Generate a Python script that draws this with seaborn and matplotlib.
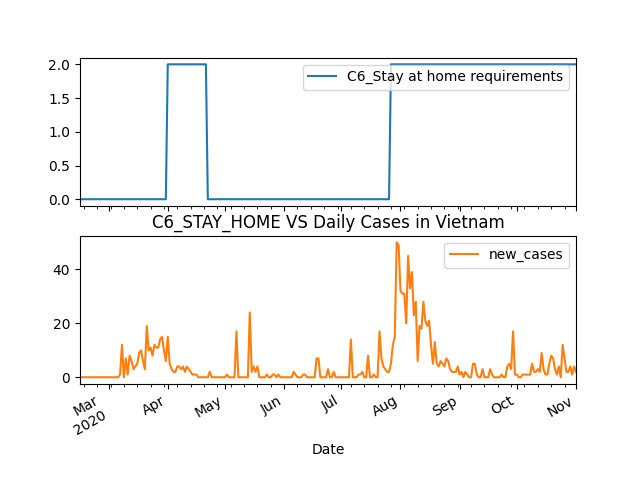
import matplotlib
matplotlib.use("Agg")
import matplotlib.pyplot as plt
import matplotlib.dates as mdates
import pandas as pd
import seaborn as sns

start_date = "2020-02-15"
end_date = "2020-11-01"

stay_home_label = "C6_Stay at home requirements"
cases_label = "new_cases"
title = "C6_STAY_HOME VS Daily Cases in Vietnam"

# C6 stay-at-home level, one value per day
c6_stay_home = [0] * 46 + [2] * 21 + [0] * 96 + [2] * 98

# daily new cases, Feb 15 .. Nov 1
new_cases = [
    0, 0, 0, 0, 0, 0, 0, 0, 0, 0,
    0, 0, 0, 0, 0, 0, 0, 0, 0, 0,
    0, 1, 12, 0, 7, 1, 8, 6, 3, 4,
    5, 9, 10, 6, 3, 19, 10, 11, 8, 12,
    11, 11, 14, 15, 10, 6, 15, 5, 3, 2,
    2, 4, 4, 3, 4, 2, 4, 3, 2, 1,
    1, 1, 0, 0, 0, 0, 0, 0, 2, 0,
    0, 0, 0, 0, 0, 0, 0, 1, 0, 0,
    0, 0, 17, 0, 0, 0, 0, 0, 0, 24,
    2, 4, 2, 4, 0, 0, 0, 0, 1, 0,
    0, 1, 1, 0, 1, 0, 0, 0, 0, 0,
    0, 0, 2, 1, 0, 0, 0, 1, 1, 0,
    0, 0, 0, 0, 7, 7, 0, 0, 0, 0,
    3, 0, 0, 2, 0, 0, 0, 0, 0, 0,
    0, 0, 14, 0, 0, 0, 1, 1, 2, 0,
    0, 8, 0, 0, 1, 0, 0, 17, 7, 4,
    3, 2, 2, 5, 12, 15, 50, 49, 32, 31,
    31, 20, 45, 33, 39, 23, 28, 6, 19, 18,
    28, 21, 19, 21, 12, 5, 13, 5, 4, 6,
    5, 4, 7, 6, 3, 2, 2, 2, 4, 1,
    2, 0, 2, 1, 0, 0, 5, 5, 1, 0,
    0, 3, 0, 0, 0, 3, 1, 0, 0, 0,
    0, 1, 0, 0, 4, 5, 3, 17, 1, 1,
    0, 0, 1, 1, 1, 1, 1, 5, 2, 2,
    3, 2, 9, 3, 1, 1, 5, 8, 7, 3,
    1, 4, 0, 12, 7, 2, 2, 4, 1, 4,
    2,
]

dates = pd.date_range(start_date, end_date, freq="D")
df = pd.DataFrame({"Date": dates, stay_home_label: c6_stay_home, cases_label: new_cases})

fig, (ax1, ax2) = plt.subplots(2, 1, sharex=True, figsize=(6.4, 4.8), dpi=100)

sns.lineplot(data=df, x="Date", y=stay_home_label, ax=ax1, color="tab:blue", label=stay_home_label)
sns.lineplot(data=df, x="Date", y=cases_label, ax=ax2, color="tab:orange", label=cases_label)

ax1.legend(loc="upper right")
ax2.legend(loc="upper right")
ax1.set_ylabel("")
ax2.set_ylabel("")
ax1.set_xlabel("")
ax2.set_xlabel("Date")
ax2.set_title(title)

ax2.set_xlim(dates[0], dates[-1])
ax2.xaxis.set_major_locator(mdates.MonthLocator())
ax2.xaxis.set_minor_locator(mdates.WeekdayLocator(byweekday=mdates.MO))
ax2.xaxis.set_major_formatter(
    plt.FuncFormatter(lambda v, pos: mdates.num2date(v).strftime("%b\n%Y" if pos == 0 else "%b"))
)

fig.autofmt_xdate(rotation=30, ha="right", bottom=0.2)

plt.savefig("out.png", dpi=100)
